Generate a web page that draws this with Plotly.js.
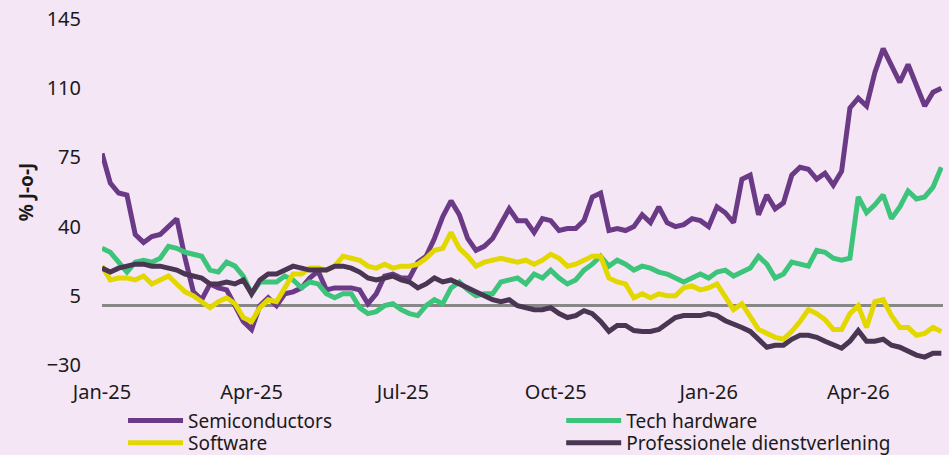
<!DOCTYPE html>
<html>
<head>
<meta charset="utf-8">
<script src="https://cdn.plot.ly/plotly-3.0.1.min.js"></script>
<style>
  html, body { margin: 0; padding: 0; background: #f4e6f5; }
  #chart { width: 949px; height: 455px; }
</style>
</head>
<body>
<div id="chart"></div>
<script>
const dates = [
  '2025-01-01','2025-01-06','2025-01-11','2025-01-16','2025-01-21','2025-01-26','2025-01-31','2025-02-05','2025-02-10','2025-02-15',
  '2025-02-20','2025-02-25','2025-03-02','2025-03-07','2025-03-12','2025-03-17','2025-03-22','2025-03-27','2025-04-01','2025-04-06',
  '2025-04-11','2025-04-16','2025-04-21','2025-04-26','2025-05-01','2025-05-06','2025-05-11','2025-05-16','2025-05-21','2025-05-26',
  '2025-05-31','2025-06-05','2025-06-10','2025-06-15','2025-06-20','2025-06-25','2025-06-30','2025-07-05','2025-07-10','2025-07-15',
  '2025-07-20','2025-07-25','2025-07-30','2025-08-04','2025-08-09','2025-08-14','2025-08-19','2025-08-24','2025-08-29','2025-09-03',
  '2025-09-08','2025-09-13','2025-09-18','2025-09-23','2025-09-28','2025-10-03','2025-10-08','2025-10-13','2025-10-18','2025-10-23',
  '2025-10-28','2025-11-02','2025-11-07','2025-11-12','2025-11-17','2025-11-22','2025-11-27','2025-12-02','2025-12-07','2025-12-12',
  '2025-12-17','2025-12-22','2025-12-27','2026-01-01','2026-01-06','2026-01-11','2026-01-16','2026-01-21','2026-01-26','2026-01-31',
  '2026-02-05','2026-02-10','2026-02-15','2026-02-20','2026-02-25','2026-03-02','2026-03-07','2026-03-12','2026-03-17','2026-03-22',
  '2026-03-27','2026-04-01','2026-04-06','2026-04-11','2026-04-16','2026-04-21','2026-04-26','2026-05-01','2026-05-06','2026-05-11',
  '2026-05-16','2026-05-21'
];

const semiconductors = [
  77, 62, 57, 56, 36, 32, 35, 36, 40, 44,
  24, 7, 3, 11, 9, 8, 0, -8, -12, 0,
  4, 0, 6, 7, 9, 14, 17.5, 8, 9, 9,
  9, 8, 1, 6, 15, 16, 14, 14, 22, 25,
  34, 45, 53, 46, 34, 28, 30, 34, 42, 49,
  43, 43, 37, 44, 43, 38, 39, 39, 43, 55,
  57, 38, 39, 38, 40, 46, 42, 50, 42, 40,
  41, 44, 43, 40, 50, 47, 42, 64, 66, 46,
  56, 49, 52, 66, 70, 69, 64, 67, 61, 68,
  100, 105, 101, 118, 130, 122, 113, 122, 112, 101,
  108, 110
];

const techHardware = [
  29, 27, 22, 17, 22, 23, 22, 24, 30, 29,
  27, 26, 25, 18, 17, 22, 20, 15, 6, 12,
  12, 12, 15, 13, 9, 12, 11, 6, 4, 6,
  6, -1, -4, -3, 0, 1, -2, -4, -5, 0,
  3, 1, 9, 12, 8, 5, 6, 6, 12, 13,
  14, 11, 16, 14, 18, 14, 11, 13, 18, 21,
  25, 20, 23, 21, 18, 20, 19, 17, 16, 14,
  12, 14, 16, 14, 17, 18, 15, 17, 19, 25,
  21, 14, 16, 22, 21, 20, 28, 27, 24, 23,
  24, 55, 47, 51, 56, 44, 50, 58, 54, 55,
  60, 70
];

const software = [
  20, 13, 14, 14, 13, 15, 11, 13, 15, 11,
  7, 5, 2, -1, 2, 4, 1, -6, -8, -1,
  3, 2, 9, 16, 16, 19, 19, 18, 20, 25,
  24, 23, 20, 19, 21, 19, 20, 20, 21, 24,
  28, 29, 37, 29, 25, 20, 22, 23, 24, 23,
  22, 23, 21, 23, 26, 24, 20, 21, 23, 25,
  25, 14, 12, 11, 4, 6, 4, 6, 5, 5,
  9, 10, 8, 9, 11, 4, -2, 1, -5, -12,
  -14, -16, -17, -13, -8, -2, -4, -7, -12, -12,
  -4, 0, -11, 2, 3, -5, -11, -11, -15, -14,
  -11, -13
];

const professioneleDiensten = [
  19, 17, 19, 20, 21, 21, 20, 20, 19, 18,
  16, 15, 14, 11, 11, 12, 11, 13, 6, 13,
  16, 16, 18, 20, 19, 18, 18, 18, 20, 20,
  19, 17, 14, 13, 14, 15, 13, 12, 9, 11,
  14, 12, 13, 11, 9, 7, 5, 3, 2, 3,
  0, -1, -2, -2, -1, -4, -6, -5, -2.5, -4,
  -8, -13, -10, -10, -12.6, -13, -13, -12, -9, -6,
  -5, -5, -5, -4, -5, -7.6, -9, -11, -13, -17,
  -21, -20, -20, -17, -15, -15, -16, -18, -20, -21.5,
  -18, -12.6, -18, -18, -17, -20, -21, -23, -25, -26,
  -24, -24
];

const seriesNames = ['Semiconductors', 'Tech hardware', 'Software', 'Professionele dienstverlening'];
const tickDates = ['2025-01-01','2025-04-01','2025-07-01','2025-10-01','2026-01-01','2026-04-01'];
const tickLabels = ['Jan-25','Apr-25','Jul-25','Oct-25','Jan-26','Apr-26'];

const colors = ['#6b3a87', '#3cc47a', '#e2d800', '#4a3552'];
const seriesData = [semiconductors, techHardware, software, professioneleDiensten];
const legendIds = ['legend', 'legend2', 'legend3', 'legend4'];

const traces = seriesData.map((vals, i) => ({
  type: 'scatter',
  mode: 'lines',
  name: seriesNames[i],
  x: dates,
  y: vals,
  legend: legendIds[i],
  line: { color: colors[i], width: 5 },
  hoverinfo: 'x+y+name'
}));

const font = { family: 'Noto Sans, Open Sans, sans-serif', color: '#1a1a1a' };

function legendAt(xPaper, yPaper) {
  return {
    orientation: 'v',
    x: xPaper,
    xanchor: 'left',
    y: yPaper,
    yanchor: 'top',
    itemwidth: 55,
    bgcolor: 'rgba(0,0,0,0)',
    font: Object.assign({ size: 19 }, font),
    tracegroupgap: 0
  };
}

const layout = {
  width: 949,
  height: 455,
  paper_bgcolor: '#f4e6f5',
  plot_bgcolor: '#f4e6f5',
  margin: { l: 102, r: 6, t: 19, b: 90, autoexpand: false },
  font: Object.assign({ size: 19 }, font),
  showlegend: true,
  legend: legendAt(0.025, -0.106),
  legend2: legendAt(0.546, -0.106),
  legend3: legendAt(0.025, -0.170),
  legend4: legendAt(0.546, -0.170),
  xaxis: {
    type: 'date',
    range: ['2025-01-01', '2026-05-22'],
    tickmode: 'array',
    tickvals: tickDates,
    ticktext: tickLabels,
    showgrid: false,
    zeroline: false,
    showline: false,
    ticks: '',
    ticklabelstandoff: 13,
    tickfont: Object.assign({ size: 20 }, font)
  },
  yaxis: {
    range: [-30, 145],
    tick0: 5,
    dtick: 35,
    tickmode: 'linear',
    showgrid: false,
    zeroline: true,
    zerolinecolor: '#878787',
    zerolinewidth: 2.5,
    showline: false,
    ticks: '',
    ticklabelstandoff: 20,
    tickfont: Object.assign({ size: 20 }, font),
    title: {
      text: '<b>% J-o-J</b>',
      font: Object.assign({ size: 19 }, font),
      standoff: 8
    }
  }
};

Plotly.newPlot('chart', traces, layout, { displayModeBar: false, staticPlot: true });
</script>
</body>
</html>
